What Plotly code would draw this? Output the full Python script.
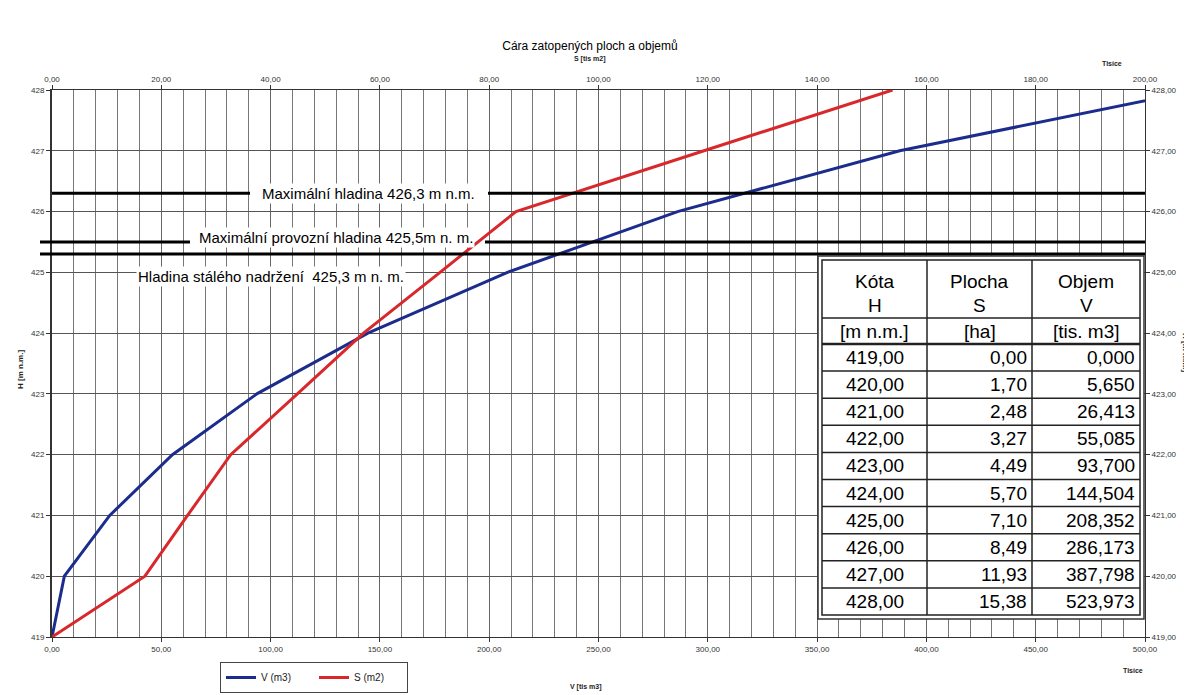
import plotly.graph_objects as go

# ---- data ----
H = [419.0, 420.0, 421.0, 422.0, 423.0, 424.0, 425.0, 426.0, 427.0, 428.0]
S_ha = [0.00, 1.70, 2.48, 3.27, 4.49, 5.70, 7.10, 8.49, 11.93, 15.38]
V_tis = [0.000, 5.650, 26.413, 55.085, 93.700, 144.504, 208.352, 286.173, 387.798, 523.973]
S_tis_m2 = [s * 10 for s in S_ha]  # ha -> tis. m2

H_txt = ["419,00", "420,00", "421,00", "422,00", "423,00", "424,00", "425,00", "426,00", "427,00", "428,00"]
S_txt = ["0,00", "1,70", "2,48", "3,27", "4,49", "5,70", "7,10", "8,49", "11,93", "15,38"]
V_txt = ["0,000", "5,650", "26,413", "55,085", "93,700", "144,504", "208,352", "286,173", "387,798", "523,973"]

table_head1 = ["Kóta", "Plocha", "Objem"]
table_head2 = ["H", "S", "V"]
table_units = ["[m n.m.]", "[ha]", "[tis. m3]"]

levels = [426.3, 425.5, 425.3]
level_labels = ["Maximální hladina 426,3 m n.m.",
                "Maximální provozní hladina 425,5m n. m.",
                "Hladina stálého nadržení  425,3 m n. m."]

FONT = "Liberation Sans, Arial, sans-serif"
BLUE = "#1c2c8c"
RED = "#d8282c"

# layout geometry (page pixels; page body has an 8px margin)
PL, PR, PT, PB = 52, 1145, 90, 637


def px(x):
    return (x - PL) / (PR - PL)


def py(y):
    return (PB - y) / (PB - PT)


def ann(text, x, y, font, xref="paper", yref="paper", xanchor="center", yanchor="middle", **kw):
    d = dict(text=text, x=x, y=y, xref=xref, yref=yref, xanchor=xanchor, yanchor=yanchor,
             showarrow=False, font=font)
    d.update(kw)
    return d


fig = go.Figure()

fig.add_trace(go.Scatter(x=V_tis, y=H, mode="lines", name="V (m3)",
                         line=dict(color=BLUE, width=3), xaxis="x", yaxis="y"))
fig.add_trace(go.Scatter(x=S_tis_m2, y=H, mode="lines", name="S (m2)",
                         line=dict(color=RED, width=3), xaxis="x2", yaxis="y"))
fig.add_trace(go.Scatter(x=[0], y=[419], mode="markers", marker=dict(opacity=0),
                         showlegend=False, hoverinfo="skip", xaxis="x", yaxis="y2"))

shapes = []
segs = {
    426.3: [(px(52), px(250)), (px(488), 1.0)],
    425.5: [(px(40), px(190)), (px(485), 1.0)],
    425.3: [(px(40), 1.0)],
}
for lv, parts in segs.items():
    for a, b in parts:
        shapes.append(dict(type="line", xref="paper", yref="y", x0=a, x1=b, y0=lv, y1=lv,
                           line=dict(color="black", width=3), layer="above"))

# ---- table drawn with shapes/annotations ----
TL, TR, TT = 822, 1140, 260
col_b = [822, 927, 1032, 1140]
row_b = [260, 318, 344] + [344 + 27.1 * k for k in range(1, 11)]
TB = row_b[-1]
shapes.append(dict(type="rect", xref="paper", yref="paper", x0=px(818), x1=px(1144),
                   y0=py(TB + 4), y1=py(TT - 4), fillcolor="white",
                   line=dict(color="#333", width=1.5), layer="above"))
shapes.append(dict(type="rect", xref="paper", yref="paper", x0=px(TL), x1=px(TR),
                   y0=py(TB), y1=py(TT), line=dict(color="#222", width=1.5), layer="above"))
for xb in col_b[1:-1]:
    shapes.append(dict(type="line", xref="paper", yref="paper", x0=px(xb), x1=px(xb),
                       y0=py(TB), y1=py(TT), line=dict(color="#222", width=1.5), layer="above"))
for i, yb in enumerate(row_b[1:-1]):
    w = 2.5 if i == 1 else 1.5
    shapes.append(dict(type="line", xref="paper", yref="paper", x0=px(TL), x1=px(TR),
                       y0=py(yb), y1=py(yb), line=dict(color="#222", width=w), layer="above"))

annotations = []
TF = dict(family=FONT, size=19, color="black")
for c in range(3):
    cx = (col_b[c] + col_b[c + 1]) / 2
    annotations.append(ann(table_head1[c], px(cx), py(281), TF))
    annotations.append(ann(table_head2[c], px(cx), py(305), TF))
    annotations.append(ann(table_units[c], px(cx), py(331), TF))
cols = [H_txt, S_txt, V_txt]
for c in range(3):
    for r, txt in enumerate(cols[c]):
        yc = (row_b[r + 2] + row_b[r + 3]) / 2
        if c == 0:
            annotations.append(ann(txt, px((col_b[0] + col_b[1]) / 2), py(yc), TF))
        else:
            annotations.append(ann(txt, px(col_b[c + 1] - 3), py(yc), TF, xanchor="right"))

LF = dict(family=FONT, size=15, color="black")
SF = dict(family=FONT, size=7, color="#222")
annotations += [
    ann(level_labels[0], px(368), 426.3, LF, yref="y", bgcolor="white"),
    ann(level_labels[1], px(336), 425.58, LF, yref="y", bgcolor="white"),
    ann(level_labels[2], px(271), 424.93, LF, yref="y", bgcolor="white"),
    ann("<b>Tisíce</b>", px(1112), py(64), SF),
    ann("<b>Tisíce</b>", px(1133), py(670), SF),
    ann("<b>H [m n.m.]</b>", px(20), py(370), dict(family=FONT, size=8, color="#222"), textangle=-90),
    ann("<b>H [m n.m.]</b>", px(1186), py(352), dict(family=FONT, size=8, color="#222"), textangle=90),
    ann("<b>S [tis m2]</b>", px(590), py(59), SF),
    ann("<b>V [tis m3]</b>", px(586), py(687), SF),
]

W, Hh = 1184, 687
tickfont = dict(family=FONT, size=8, color="#333")
fig.update_layout(
    width=W, height=Hh,
    separators=", ",
    paper_bgcolor="white", plot_bgcolor="white",
    margin=dict(l=PL - 8, r=W - (PR - 8), t=PT - 8, b=Hh - (PB - 8), autoexpand=False),
    title=dict(text="Cára zatopených ploch a objemů", x=(590 - 8) / W,
               xanchor="center", y=1 - 38 / Hh,
               yanchor="middle", font=dict(family=FONT, size=12, color="black")),
    xaxis=dict(range=[0, 500], dtick=50, tickformat=".2f", tickfont=tickfont,
               showgrid=True, gridcolor="#666", gridwidth=1,
               minor=dict(dtick=10, showgrid=True, gridcolor="#777", gridwidth=1),
               showline=True, linecolor="#333", linewidth=1, ticks="outside", ticklen=4,
               tickcolor="#333", zeroline=False),
    xaxis2=dict(range=[0, 200], dtick=20, tickformat=".2f", tickfont=tickfont,
                overlaying="x", side="top", showgrid=False,
                showline=True, linecolor="#333", linewidth=1, ticks="outside", ticklen=4,
                tickcolor="#333", zeroline=False),
    yaxis=dict(range=[419, 428], dtick=1, tickformat="d", tickfont=tickfont,
               showgrid=True, gridcolor="#555", gridwidth=1,
               showline=True, linecolor="#333", linewidth=2, ticks="outside", ticklen=4,
               tickcolor="#333", zeroline=False),
    yaxis2=dict(range=[419, 428], dtick=1, tickformat=".2f", tickfont=tickfont,
                overlaying="y", side="right", showgrid=False,
                showline=True, linecolor="#333", linewidth=1, ticks="outside", ticklen=4,
                tickcolor="#333", zeroline=False),
    legend=dict(orientation="h", x=px(220), y=py(693), xanchor="left", yanchor="bottom",
                bordercolor="#444", borderwidth=1, bgcolor="white",
                font=dict(family=FONT, size=10, color="#222"), itemwidth=30,
                tracegroupgap=0, entrywidth=48, valign="middle"),
    shapes=shapes,
    annotations=annotations,
    showlegend=True,
)

fig.write_html("out.html")
